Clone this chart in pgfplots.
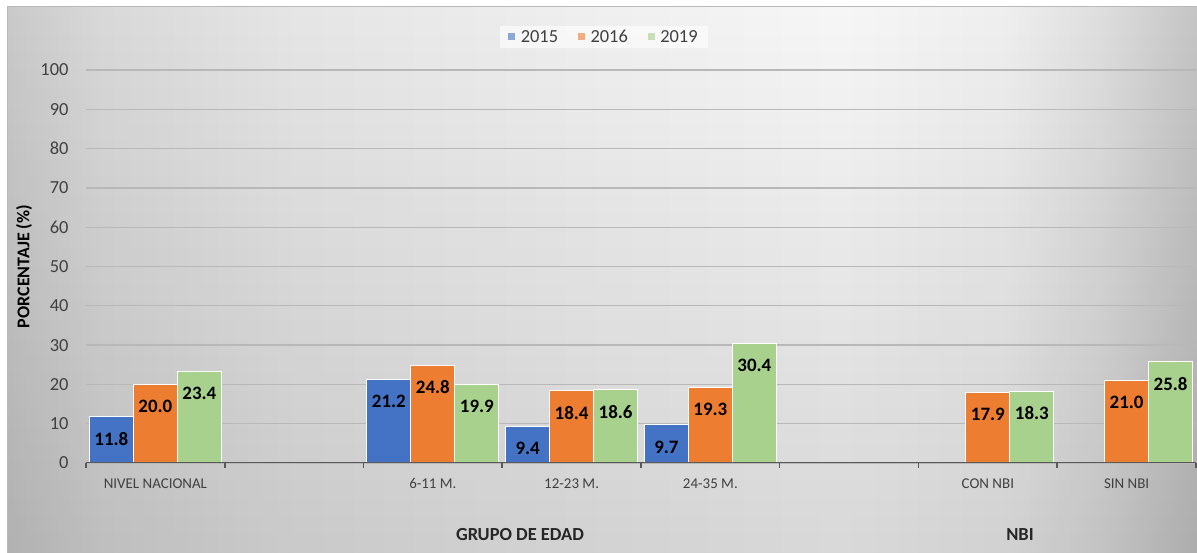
\documentclass[border=0pt]{standalone}
\usepackage{pgfplots}
\pgfplotsset{compat=1.18}
\usepackage{fontspec}
\setmainfont{Carlito}
\definecolor{c2015}{HTML}{4472C4}
\definecolor{c2016}{HTML}{ED7D31}
\definecolor{c2019}{HTML}{A9D18E}
\definecolor{lblgray}{HTML}{404040}
\definecolor{axgray}{HTML}{595959}
\definecolor{gridgray}{HTML}{B8B8B8}
\definecolor{bgA}{gray}{0.79}
\definecolor{bgB}{gray}{0.85}
\definecolor{bgC}{gray}{0.90}
\definecolor{bgD}{gray}{0.94}
\definecolor{bgE}{gray}{0.965}
\definecolor{bgF}{gray}{0.935}
\definecolor{bgG}{gray}{0.87}
\definecolor{bgH}{gray}{0.77}
\definecolor{vdark}{gray}{0.88}
\pgfdeclarehorizontalshading{bgshade}{100bp}{color(0bp)=(bgA); color(25bp)=(bgA); color(29bp)=(bgB); color(37bp)=(bgC); color(50bp)=(bgD); color(60bp)=(bgE); color(67bp)=(bgF); color(71bp)=(bgG); color(75bp)=(bgH); color(100bp)=(bgH)}
\begin{document}
\begin{tikzpicture}[x=1bp,y=1bp]
\useasboundingbox (0,0) rectangle (1197,553);
\fill[white] (0,0) rectangle (1197,553);
\shade[shading=bgshade] (7,0) rectangle (1197,546);
\begin{scope}[blend mode=multiply]
\shade[top color=white, bottom color=vdark] (7,0) rectangle (1197,546);
\end{scope}
\draw[gray!55, line width=1bp] (7,0) -- (7,546) -- (1197,546);
\begin{axis}[
  at={(86bp,90bp)}, anchor=south west,
  scale only axis, width=1110bp, height=393bp,
  xmin=-0.5, xmax=7.5, ymin=0, ymax=100,
  ybar=0pt, bar width=44bp,
  /pgf/number format/assume math mode=true,
  ytick={0,10,...,100},
  xtick={0,2,3,4,6,7},
  xticklabels={NIVEL NACIONAL, 6-11 M., 12-23 M., 24-35 M., CON NBI, SIN NBI},
  xtick pos=bottom, ytick pos=left,
  major tick length=0pt,
  tick align=outside,
  extra x ticks={-0.5,0.5,1.5,2.5,3.5,4.5,5.5,6.5,7.5},
  extra x tick labels={},
  extra x tick style={major tick length=5bp, tick style={line width=1.5bp, color=axgray}, grid=none},
  ymajorgrids, grid style={line width=1.3bp, color=gridgray},
  axis line style={draw=none},
  xticklabel style={font=\fontsize{15}{16}\selectfont, text=lblgray, yshift=-12bp},
  yticklabel style={font=\fontsize{18.5}{20}\selectfont, text=lblgray, xshift=-14bp},
  ylabel={\textbf{PORCENTAJE (\%)}},
  every axis y label/.style={at={(axis description cs:-0.0559,0.5)}, rotate=90, anchor=center, font=\fontsize{18}{20}\selectfont, text=black},
  legend style={at={(axis description cs:0.4667,1.084)}, anchor=center, legend columns=3, draw=none, fill=white, fill opacity=0.6, text opacity=1, font=\fontsize{18.5}{20}\selectfont, text=lblgray, inner xsep=8bp, /tikz/every even column/.append style={column sep=18bp}},
  legend image code/.code={\fill[#1, draw=none] (0bp,-3.5bp) rectangle (7bp,3.5bp); \path (10bp,0bp);},
  nodes near coords={\pgfmathprintnumber[fixed,fixed zerofill,precision=1]{\pgfplotspointmeta}},
  every node near coord/.append style={font=\bfseries\fontsize{19}{20}\selectfont, text=black, anchor=center, yshift=-22bp},
]
\addplot[fill=c2015, draw=white, line width=0.8bp] coordinates {(0,11.8) (2,21.2) (3,9.4) (4,9.7)};
\addplot[fill=c2016, draw=white, line width=0.8bp] coordinates {(0,20.0) (2,24.8) (3,18.4) (4,19.3) (6,17.9) (7,21.0)};
\addplot[fill=c2019, draw=white, line width=0.8bp] coordinates {(0,23.4) (2,19.9) (3,18.6) (4,30.4) (6,18.3) (7,25.8)};
\legend{2015,2016,2019}
\draw[axgray, line width=2.5bp] (axis cs:-0.5,0) -- (axis cs:7.5,0);
\end{axis}
\node[font=\bfseries\fontsize{18.5}{20}\selectfont, text=black!85] at (520,18) {GRUPO DE EDAD};
\node[font=\bfseries\fontsize{18.5}{20}\selectfont, text=black!85] at (1020,18) {NBI};
\end{tikzpicture}
\end{document}
